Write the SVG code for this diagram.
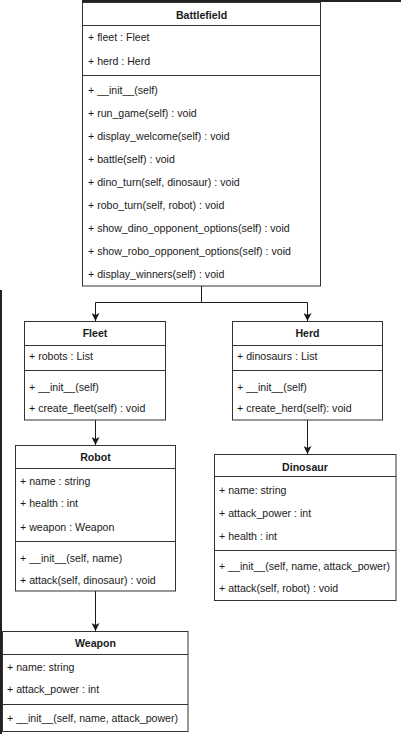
<svg xmlns="http://www.w3.org/2000/svg" width="401" height="734" viewBox="0 0 401 734">
  <style>
    .box { fill: #ffffff; stroke: #333333; stroke-width: 1; }
    .sep { stroke: #333333; stroke-width: 1; fill: none; }
    .t { font-family: "Liberation Sans", Arial, sans-serif; font-size: 10.6px; fill: #1a1a1a; }
    .h { font-family: "Liberation Sans", Arial, sans-serif; font-size: 10.6px; font-weight: bold; fill: #1a1a1a; text-anchor: middle; }
    .edge { stroke: #1a1a1a; stroke-width: 1; fill: none; }
  </style>
  <defs>
    <marker id="arrow" viewBox="0 0 8 8" refX="8" refY="4" markerWidth="8" markerHeight="8" markerUnits="userSpaceOnUse" orient="auto">
      <path d="M0,0 L8,4 L0,8 L2,4 Z" fill="#1a1a1a"/>
    </marker>
  </defs>
  <rect width="401" height="734" fill="#ffffff"/>
  <!-- window frame edges -->
  <rect x="82" y="0" width="319" height="2" fill="#222222"/>
  <rect x="0" y="290" width="2" height="444" fill="#222222"/>

  <g id="connectors">
    <path class="edge" d="M201.5,286 V302.5 H95.5 V321" marker-end="url(#arrow)"/>
    <path class="edge" d="M201.5,302.5 H307.5 V321" marker-end="url(#arrow)"/>
    <path class="edge" d="M95.5,420 V445" marker-end="url(#arrow)"/>
    <path class="edge" d="M307.5,420 V454" marker-end="url(#arrow)"/>
    <path class="edge" d="M95.5,591 V631" marker-end="url(#arrow)"/>
  </g>

  <g id="battlefield">
    <rect class="box" x="82.5" y="2.5" width="238" height="283.5"/>
    <text class="h" x="201.5" y="18.5">Battlefield</text>
    <line class="sep" x1="82.5" y1="25.5" x2="320.5" y2="25.5"/>
    <text class="t" x="88" y="41">+ fleet : Fleet</text>
    <text class="t" x="88" y="64.5">+ herd : Herd</text>
    <line class="sep" x1="82.5" y1="75.5" x2="320.5" y2="75.5"/>
    <text class="t" x="88" y="94">+ __init__(self)</text>
    <text class="t" x="88" y="117">+ run_game(self) : void</text>
    <text class="t" x="88" y="140">+ display_welcome(self) : void</text>
    <text class="t" x="88" y="163">+ battle(self) : void</text>
    <text class="t" x="88" y="186">+ dino_turn(self, dinosaur) : void</text>
    <text class="t" x="88" y="209">+ robo_turn(self, robot) : void</text>
    <text class="t" x="88" y="232">+ show_dino_opponent_options(self) : void</text>
    <text class="t" x="88" y="255">+ show_robo_opponent_options(self) : void</text>
    <text class="t" x="88" y="278">+ display_winners(self) : void</text>
  </g>

  <g id="fleet">
    <rect class="box" x="24.5" y="321.5" width="141" height="98.5"/>
    <text class="h" x="95" y="337">Fleet</text>
    <line class="sep" x1="24.5" y1="345.5" x2="165.5" y2="345.5"/>
    <text class="t" x="29" y="360">+ robots : List</text>
    <line class="sep" x1="24.5" y1="370.5" x2="165.5" y2="370.5"/>
    <text class="t" x="29" y="391">+ __init__(self)</text>
    <text class="t" x="29" y="412">+ create_fleet(self) : void</text>
  </g>

  <g id="herd">
    <rect class="box" x="232.5" y="321.5" width="150" height="98.5"/>
    <text class="h" x="307.5" y="337">Herd</text>
    <line class="sep" x1="232.5" y1="345.5" x2="382.5" y2="345.5"/>
    <text class="t" x="237" y="360">+ dinosaurs : List</text>
    <line class="sep" x1="232.5" y1="370.5" x2="382.5" y2="370.5"/>
    <text class="t" x="237" y="391">+ __init__(self)</text>
    <text class="t" x="237" y="412">+ create_herd(self): void</text>
  </g>

  <g id="robot">
    <rect class="box" x="15.5" y="445.5" width="160" height="145.5"/>
    <text class="h" x="95.5" y="461">Robot</text>
    <line class="sep" x1="15.5" y1="468.5" x2="175.5" y2="468.5"/>
    <text class="t" x="20" y="484.5">+ name : string</text>
    <text class="t" x="20" y="506.5">+ health : int</text>
    <text class="t" x="20" y="530.5">+ weapon : Weapon</text>
    <line class="sep" x1="15.5" y1="541.5" x2="175.5" y2="541.5"/>
    <text class="t" x="20" y="561.5">+ __init__(self, name)</text>
    <text class="t" x="20" y="584">+ attack(self, dinosaur) : void</text>
  </g>

  <g id="dinosaur">
    <rect class="box" x="214.5" y="454.5" width="181.5" height="146"/>
    <text class="h" x="305" y="470.5">Dinosaur</text>
    <line class="sep" x1="214.5" y1="476.5" x2="396" y2="476.5"/>
    <text class="t" x="219" y="494">+ name: string</text>
    <text class="t" x="219" y="516.5">+ attack_power : int</text>
    <text class="t" x="219" y="540">+ health : int</text>
    <line class="sep" x1="214.5" y1="550.5" x2="396" y2="550.5"/>
    <text class="t" x="219" y="570">+ __init__(self, name, attack_power)</text>
    <text class="t" x="219" y="592">+ attack(self, robot) : void</text>
  </g>

  <g id="weapon">
    <rect class="box" x="2.5" y="631.5" width="185.5" height="100"/>
    <text class="h" x="95.5" y="647">Weapon</text>
    <line class="sep" x1="2.5" y1="654.5" x2="188" y2="654.5"/>
    <text class="t" x="7" y="670.5">+ name: string</text>
    <text class="t" x="7" y="693">+ attack_power : int</text>
    <line class="sep" x1="2.5" y1="704.5" x2="188" y2="704.5"/>
    <text class="t" x="7" y="722">+ __init__(self, name, attack_power)</text>
  </g>
</svg>
